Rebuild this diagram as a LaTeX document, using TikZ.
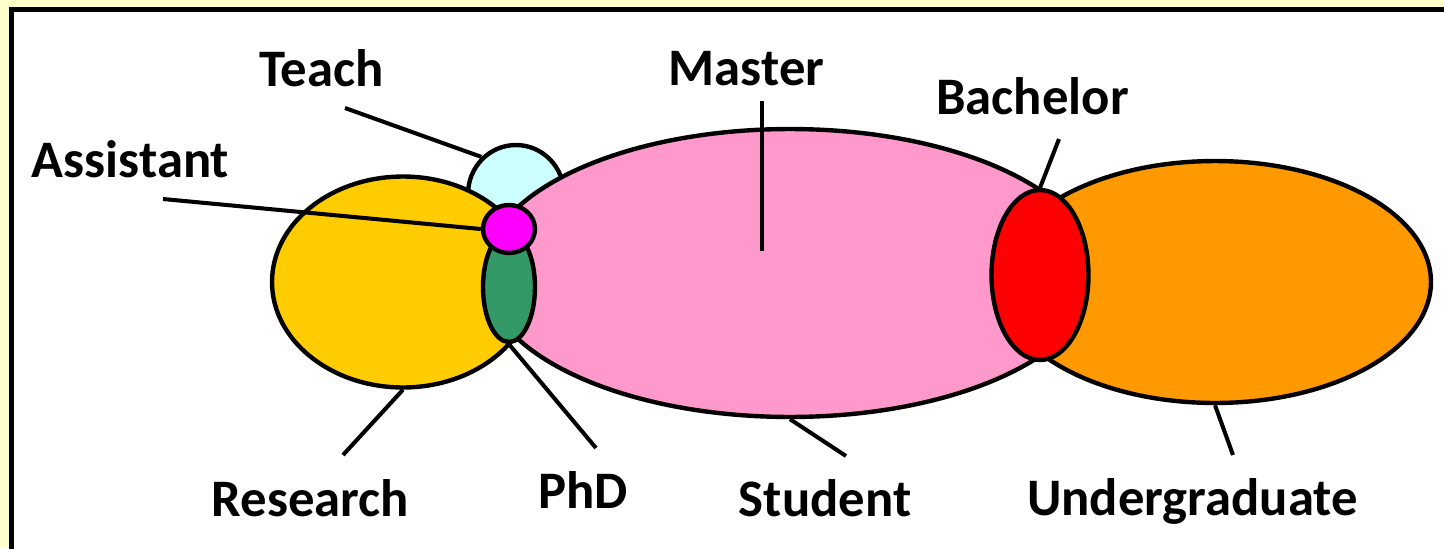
\documentclass[tikz,border=0pt]{standalone}
\usepackage{fontspec}
\setmainfont{Carlito}
\usepackage{tikz}
\usetikzlibrary{shapes.geometric, positioning, calc}
\definecolor{paneyellow}{HTML}{FFFFCC}
\definecolor{researchgold}{HTML}{FFCC00}
\definecolor{teachcyan}{HTML}{CCFFFF}
\definecolor{masterpink}{HTML}{FF99CC}
\definecolor{undergradorange}{HTML}{FF9900}
\definecolor{bachelorred}{HTML}{FF0000}
\definecolor{phdgreen}{HTML}{339966}
\definecolor{assistantmagenta}{HTML}{FF00FF}

\begin{document}
\begin{tikzpicture}[
    x=0.02cm, y=-0.02cm,
    blob/.style={ellipse, draw=black, fill=#1, line width=2.5pt, inner sep=0pt},
    blob/.default=white,
    tag/.style={font=\fontsize{30pt}{36pt}\selectfont\bfseries, anchor=base, inner sep=0pt},
    leader/.style={line width=2.3pt}
]
\useasboundingbox (0,0) rectangle (1444,548);
\clip (0,0) rectangle (1444,548);

% Frame
\fill[paneyellow] (0,0) rectangle (1444,548);
\draw[line width=2.85pt, fill=white] (11.5,9.5) rectangle (1480,580);

% Components
\node[blob=teachcyan, minimum width=1.92cm, minimum height=1.96cm] at (516,194) (teach) {};
\node[blob=masterpink, minimum width=12.24cm, minimum height=5.76cm] at (790,273) (master) {};
\node[blob=researchgold, minimum width=5.24cm, minimum height=4.22cm] at (403,282) (research) {};
\node[blob=undergradorange, minimum width=8.64cm, minimum height=4.84cm] at (1215,282) (undergrad) {};
\node[blob=phdgreen, minimum width=1.04cm, minimum height=2.2cm] at (509,287) (phd) {};
\node[blob=bachelorred, minimum width=1.94cm, minimum height=3.4cm] at (1040,275) (bachelor) {};
\node[blob=assistantmagenta, minimum width=1.04cm, minimum height=0.96cm] at (509,229) (assistant) {};

% Labels
\node[tag] at (321.5,86) (teachlbl) {Teach};
\node[tag] at (130.5,177) (assistantlbl) {Assistant};
\node[tag] at (746.5,85) (masterlbl) {Master};
\node[tag] at (1032.5,114) (bachelorlbl) {Bachelor};
\node[tag] at (310.5,516) (researchlbl) {Research};
\node[tag] at (583,508) (phdlbl) {PhD};
\node[tag] at (825,516) (studentlbl) {Student};
\node[tag] at (1192.5,515) (undergradlbl) {Undergraduate};

% Leader ends
\coordinate (teachend) at (345,108);
\coordinate (assistantend) at (163,199);
\coordinate (masterend) at (762,101);
\coordinate (mastertip) at (762,251);
\coordinate (bachelorend) at (1059,139);
\coordinate (researchend) at (343,455);
\coordinate (phdend) at (596,448);
\coordinate (studentend) at (846,456);
\coordinate (undergradend) at (1233,455);

% Leaders
\draw[leader] (teachend) -- (teach.133);
\draw[leader] (assistantend) -- (assistant.west);
\draw[leader] (masterend) -- (mastertip);
\draw[leader] (bachelorend) -- (bachelor.north);
\draw[leader] (research.south) -- (researchend);
\draw[leader] (phd.south) -- (phdend);
\draw[leader] (master.south) -- (studentend);
\draw[leader] (undergrad.south) -- (undergradend);

\end{tikzpicture}
\end{document}
